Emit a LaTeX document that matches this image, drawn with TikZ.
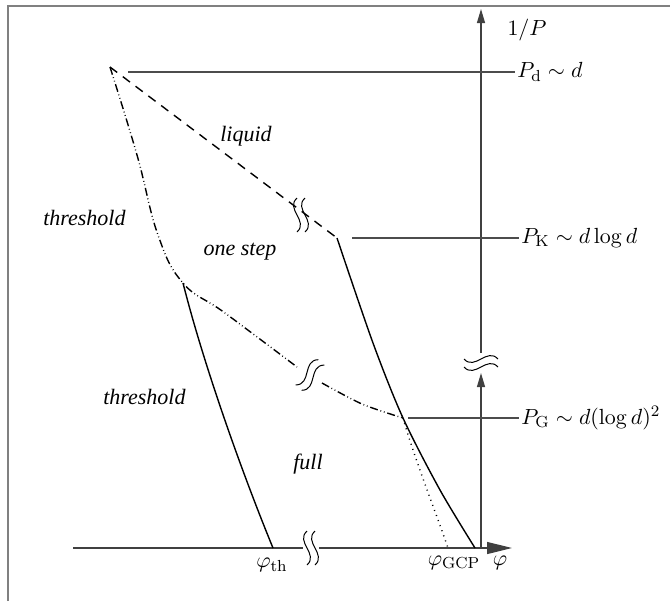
\documentclass[tikz,border=0pt]{standalone}
\usepackage[no-math]{fontspec}
\setmainfont{Liberation Serif}
\usetikzlibrary{arrows.meta,positioning}

\begin{document}
\begin{tikzpicture}[
      x=0.5pt, y=-0.5pt,
      every node/.style={font=\fontsize{11}{13}\selectfont, inner sep=1pt},
      region/.style={font=\fontsize{11}{13}\selectfont\itshape},
      frame/.style={draw=black!50, line width=0.9pt},
      axis/.style={draw=black!75, line width=0.6pt},
      guide/.style={draw=black!70, line width=0.6pt},
      curve/.style={line width=0.7pt},
      dashdot/.style={dash pattern=on 4pt off 1.4pt on 0.4pt off 1.4pt on 0.4pt off 1.4pt},
      dots/.style={dash pattern=on 0.5pt off 2.2pt},
      wave/.style={line width=0.5pt, solid},
      brk/.pic={
        \draw[wave] (-4,-17) .. controls (-16,-6) and (8,6) .. (-4,17);
        \draw[wave] (4,-17) .. controls (-8,-6) and (16,6) .. (4,17);
      }
    ]
  \useasboundingbox (0,0) rectangle (670,601);

  % --- Rahmen ---
  \draw[frame] (8,601) -- (8,6) -- (670,6);

  % --- Achsen ---
  \coordinate (xl) at (73,548);
  \coordinate (xb1) at (303,548);
  \coordinate (xb2) at (319,548);
  \coordinate (xt) at (380,548);
  \coordinate (xe) at (512,548);
  \coordinate (o) at (481,548);
  \coordinate (yb1) at (481,373);
  \coordinate (yb2) at (481,353);
  \coordinate (ye) at (481,9);
  \draw[axis] (xl) -- (xb1);
  \draw[axis, line width=1.1pt] (xb2) -- (xt);
  \draw[axis, -{Triangle[length=12.5pt,width=6pt]}] (xt) -- (xe);
  \draw[axis, -{Triangle[length=7pt,width=4pt]}] (o) -- (yb1);
  \draw[axis, -{Triangle[length=7pt,width=4pt]}] (yb2) -- (ye);
  \pic at (311,548) {brk};
  \pic[rotate=90] at (481,363) {brk};

  \node (invp) at (527,30) {$1/P$};
  \node (phi) at (500,563) {$\varphi$};
  \node (phith) at (272,565) {$\varphi_{\mathrm{th}}$};
  \node (phigcp) at (454,563) {$\varphi_{\mathrm{GCP}}$};

  % --- Phasengrenzen ---
  \coordinate (tp) at (110,67);
  \coordinate (k) at (337,238);
  \coordinate (g) at (403,418);
  \coordinate (t) at (183,283);
  \coordinate (th) at (273,548);
  \coordinate (gcp) at (448,548);
  \coordinate (cp) at (475,548);

  \draw[curve, dash pattern=on 4.5pt off 3.5pt] (tp) -- (k);
  \pic at (301,215) {brk};

  \draw[curve, dashdot] plot[smooth, tension=0.7] coordinates
    {(tp) (137,155) (158,235) (t) (225,313) (297,367)};
  \draw[curve, dashdot] plot[smooth] coordinates {(322,383) (362,404) (g)};
  \pic[rotate=-42] at (310,375) {brk};

  \draw[curve] plot[smooth] coordinates {(k) (373,343) (g) (440,490) (cp)};
  \draw[curve] (t) .. controls (205,370) and (245,480) .. (th);
  \draw[curve, dots] (g) .. controls (415,460) and (435,510) .. (gcp);

  % --- Druckniveaus ---
  \node[anchor=west] (pd) at (515,72) {$P_{\mathrm{d}}\sim d$};
  \node[anchor=west] (pk) at (519,238) {$P_{\mathrm{K}}\sim d\log d$};
  \node[anchor=west] (pg) at (519,418) {$P_{\mathrm{G}}\sim d(\log d)^2$};
  \coordinate (pdl) at (128,72);
  \coordinate (pkl) at (352,238);
  \coordinate (pgl) at (408,418);
  \draw[guide] (pdl) -- (pd.west);
  \draw[guide] (pkl) -- (pk.west);
  \draw[guide] (pgl) -- (pg.west);

  % --- Bereiche ---
  \node[region] (liq) at (246,136) {liquid};
  \node[region, anchor=east] (thr1) at (128,218) {threshold};
  \node[region] (one) at (240,252) {one step};
  \node[region, anchor=east] (thr2) at (188,397) {threshold};
  \node[region] (full) at (308,464) {full};
\end{tikzpicture}
\end{document}
